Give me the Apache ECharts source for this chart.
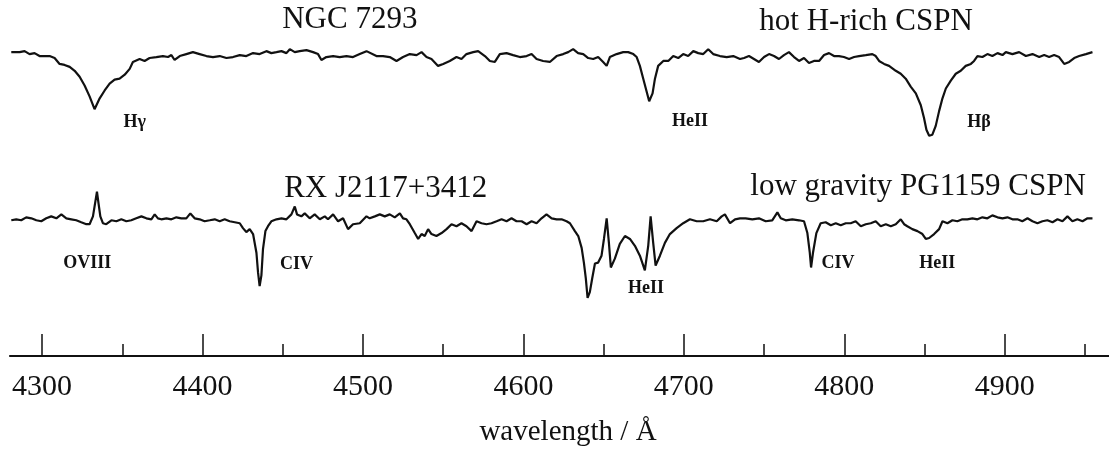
<!DOCTYPE html>
<html>
<head>
<meta charset="utf-8">
<script src="https://cdn.jsdelivr.net/npm/echarts@6/dist/echarts.min.js"></script>
<style>
html,body{margin:0;padding:0;background:#fff;}
#chart{width:1109px;height:452px;}
</style>
</head>
<body>
<div id="chart"></div>
<script>
// wavelength (Å), relative flux (offset spectra)
const ngc7293 = [[4280.8,3.12],[4286.0,3.12],[4289.1,3.13],[4292.2,3.10],[4295.3,3.11],[4298.4,3.08],[4301.6,3.08],[4304.7,3.08],[4307.8,3.06],[4310.9,3.00],[4314.0,2.99],[4317.2,2.97],[4320.3,2.93],[4323.4,2.87],[4326.5,2.78],[4329.6,2.67],[4332.7,2.54],[4335.9,2.65],[4339.0,2.73],[4342.1,2.80],[4345.2,2.84],[4348.3,2.85],[4351.5,2.89],[4354.6,2.95],[4356.6,3.02],[4360.8,3.05],[4363.9,3.03],[4367.0,3.06],[4371.2,3.07],[4375.3,3.08],[4378.5,3.07],[4380.6,3.09],[4382.6,3.04],[4385.8,3.08],[4389.9,3.10],[4394.0,3.12],[4398.2,3.10],[4402.4,3.08],[4406.5,3.07],[4410.7,3.08],[4414.9,3.06],[4419.0,3.07],[4423.2,3.09],[4427.3,3.08],[4431.5,3.11],[4435.6,3.10],[4439.8,3.13],[4442.9,3.11],[4446.1,3.12],[4449.2,3.13],[4452.3,3.11],[4454.4,3.15],[4457.5,3.12],[4460.6,3.13],[4464.8,3.14],[4468.9,3.12],[4472.0,3.10],[4474.1,3.04],[4477.2,3.07],[4481.4,3.08],[4485.5,3.07],[4489.7,3.08],[4493.8,3.07],[4498.0,3.10],[4502.2,3.13],[4508.4,3.08],[4512.5,3.08],[4516.7,3.07],[4520.9,3.03],[4525.0,3.07],[4529.2,3.10],[4533.4,3.09],[4536.5,3.12],[4539.6,3.07],[4542.7,3.05],[4546.8,2.98],[4550.0,3.00],[4554.1,3.03],[4558.3,3.07],[4561.4,3.05],[4564.5,3.10],[4568.7,3.12],[4571.8,3.13],[4576.0,3.08],[4579.1,3.03],[4582.2,3.02],[4585.3,3.10],[4589.5,3.11],[4593.6,3.09],[4597.8,3.07],[4602.0,3.08],[4605.1,3.10],[4608.2,3.05],[4612.3,3.03],[4616.5,3.02],[4620.7,3.08],[4624.8,3.10],[4627.9,3.12],[4631.0,3.15],[4634.1,3.11],[4637.3,3.10],[4640.4,3.06],[4643.5,3.05],[4646.6,3.07],[4649.7,3.02],[4651.9,2.98],[4653.9,3.07],[4658.1,3.10],[4662.2,3.12],[4665.3,3.12],[4668.5,3.10],[4670.6,3.07],[4672.6,2.98],[4674.7,2.85],[4676.8,2.72],[4678.4,2.62],[4680.5,2.70],[4682.0,2.85],[4684.0,2.98],[4687.2,3.03],[4690.3,3.03],[4693.4,3.08],[4696.5,3.06],[4699.6,3.10],[4702.7,3.08],[4705.9,3.13],[4709.0,3.11],[4712.1,3.10],[4715.2,3.15],[4718.3,3.10],[4722.5,3.08],[4726.7,3.07],[4730.8,3.08],[4735.0,3.05],[4737.5,3.06],[4740.6,3.08],[4743.7,3.05],[4746.8,3.02],[4750.0,3.07],[4753.1,3.10],[4756.2,3.08],[4759.3,3.05],[4762.4,3.09],[4765.5,3.12],[4768.7,3.07],[4771.8,3.03],[4774.9,3.06],[4778.0,3.01],[4781.1,3.03],[4784.3,3.03],[4787.4,3.09],[4790.5,3.11],[4793.6,3.08],[4796.7,3.08],[4799.8,3.07],[4803.0,3.05],[4806.1,3.07],[4809.2,3.08],[4813.4,3.09],[4817.5,3.10],[4819.6,3.08],[4821.7,3.03],[4824.8,3.00],[4827.9,2.98],[4832.1,2.93],[4835.2,2.90],[4838.3,2.85],[4841.4,2.77],[4844.6,2.70],[4847.7,2.58],[4849.7,2.45],[4851.2,2.33],[4852.9,2.27],[4854.9,2.28],[4857.0,2.37],[4859.1,2.52],[4861.2,2.65],[4863.3,2.75],[4866.4,2.83],[4869.5,2.90],[4872.6,2.93],[4875.7,2.98],[4878.9,3.00],[4880.9,3.03],[4883.0,3.08],[4886.1,3.07],[4889.2,3.10],[4892.3,3.08],[4895.5,3.11],[4898.6,3.09],[4900.7,3.12],[4904.8,3.10],[4909.0,3.12],[4913.2,3.08],[4917.3,3.10],[4921.5,3.07],[4924.6,3.09],[4927.7,3.07],[4930.8,3.09],[4933.9,3.07],[4937.1,3.00],[4940.2,3.02],[4943.3,3.06],[4946.4,3.08],[4950.6,3.10],[4954.7,3.12]];

const rxj2117 = [[4280.8,1.41],[4283.9,1.42],[4287.0,1.41],[4290.1,1.44],[4293.3,1.43],[4296.4,1.41],[4299.5,1.40],[4302.6,1.43],[4305.7,1.45],[4308.9,1.43],[4312.0,1.47],[4315.1,1.43],[4318.2,1.42],[4321.3,1.41],[4324.4,1.39],[4327.6,1.37],[4329.6,1.37],[4331.7,1.45],[4333.2,1.60],[4334.2,1.70],[4335.2,1.58],[4336.3,1.45],[4337.9,1.38],[4340.0,1.37],[4343.2,1.41],[4346.3,1.40],[4349.4,1.42],[4352.5,1.40],[4355.6,1.41],[4358.7,1.43],[4361.9,1.45],[4365.0,1.43],[4368.1,1.42],[4370.2,1.47],[4372.2,1.43],[4374.3,1.42],[4377.5,1.43],[4380.6,1.42],[4383.7,1.44],[4386.8,1.43],[4389.9,1.43],[4392.4,1.48],[4395.1,1.43],[4398.2,1.42],[4401.3,1.40],[4404.5,1.41],[4407.6,1.42],[4410.7,1.40],[4413.8,1.42],[4416.9,1.40],[4420.1,1.39],[4423.2,1.38],[4425.2,1.33],[4427.3,1.29],[4429.4,1.32],[4431.5,1.27],[4433.6,1.08],[4434.6,0.88],[4435.6,0.74],[4436.7,0.85],[4437.7,1.12],[4439.2,1.30],[4440.8,1.35],[4442.9,1.40],[4446.1,1.42],[4449.2,1.43],[4452.3,1.42],[4455.4,1.47],[4457.5,1.55],[4458.9,1.47],[4461.6,1.45],[4463.7,1.48],[4466.8,1.43],[4469.9,1.47],[4473.1,1.42],[4476.2,1.45],[4478.2,1.42],[4481.4,1.47],[4484.5,1.40],[4487.6,1.43],[4490.7,1.32],[4493.8,1.37],[4498.0,1.38],[4502.2,1.45],[4504.2,1.43],[4507.4,1.45],[4510.5,1.47],[4513.6,1.45],[4516.7,1.47],[4519.8,1.44],[4523.0,1.48],[4525.0,1.43],[4527.1,1.42],[4529.2,1.37],[4532.3,1.28],[4534.4,1.22],[4536.5,1.27],[4538.5,1.25],[4540.6,1.32],[4542.7,1.27],[4545.8,1.25],[4549.0,1.28],[4552.1,1.32],[4555.2,1.37],[4558.3,1.35],[4561.4,1.38],[4564.5,1.35],[4567.7,1.30],[4570.8,1.40],[4573.9,1.38],[4577.0,1.37],[4580.1,1.38],[4583.3,1.40],[4586.4,1.42],[4589.5,1.40],[4592.6,1.43],[4595.7,1.40],[4598.9,1.40],[4602.0,1.37],[4605.1,1.40],[4608.2,1.38],[4611.3,1.43],[4614.4,1.47],[4617.6,1.43],[4620.7,1.42],[4623.8,1.42],[4626.9,1.40],[4629.0,1.38],[4632.1,1.30],[4634.2,1.25],[4636.3,1.13],[4637.7,0.98],[4638.9,0.82],[4640.0,0.62],[4641.4,0.68],[4642.9,0.82],[4644.6,0.97],[4646.6,0.98],[4648.7,1.05],[4650.2,1.22],[4651.9,1.43],[4653.3,1.18],[4654.5,0.93],[4657.0,1.02],[4660.1,1.17],[4663.3,1.25],[4666.4,1.22],[4669.5,1.15],[4672.6,1.05],[4675.7,0.90],[4677.8,1.15],[4679.3,1.45],[4680.9,1.18],[4682.4,0.95],[4685.1,1.05],[4688.2,1.18],[4691.3,1.27],[4695.5,1.33],[4699.6,1.38],[4703.8,1.42],[4708.0,1.40],[4712.1,1.40],[4716.3,1.42],[4720.5,1.40],[4723.6,1.45],[4725.6,1.47],[4728.8,1.38],[4731.9,1.42],[4735.0,1.43],[4738.5,1.43],[4742.7,1.42],[4746.8,1.43],[4751.0,1.40],[4755.1,1.41],[4758.3,1.49],[4760.4,1.43],[4763.5,1.41],[4767.6,1.42],[4771.8,1.41],[4774.9,1.40],[4777.0,1.28],[4778.5,1.08],[4779.3,0.93],[4780.5,1.08],[4782.6,1.28],[4785.3,1.38],[4788.4,1.39],[4791.6,1.36],[4794.7,1.38],[4797.8,1.36],[4800.9,1.38],[4804.0,1.38],[4807.1,1.40],[4810.3,1.35],[4813.4,1.37],[4816.5,1.38],[4819.6,1.40],[4822.7,1.35],[4825.9,1.37],[4829.0,1.35],[4832.1,1.37],[4835.2,1.42],[4837.3,1.37],[4839.3,1.35],[4842.4,1.32],[4845.6,1.30],[4848.7,1.27],[4850.8,1.22],[4852.9,1.23],[4856.0,1.27],[4859.1,1.32],[4861.2,1.40],[4864.3,1.38],[4867.4,1.41],[4870.5,1.40],[4873.6,1.42],[4876.7,1.42],[4879.9,1.43],[4883.0,1.42],[4886.1,1.44],[4889.2,1.43],[4892.3,1.46],[4895.5,1.44],[4898.6,1.43],[4901.7,1.44],[4904.8,1.42],[4907.9,1.42],[4911.0,1.40],[4914.2,1.43],[4917.3,1.40],[4920.4,1.38],[4923.5,1.40],[4926.6,1.41],[4929.8,1.39],[4932.9,1.42],[4936.0,1.40],[4939.1,1.45],[4942.2,1.40],[4945.3,1.42],[4948.5,1.40],[4951.6,1.43],[4954.7,1.43]];

// spectrum titles: [wavelength, flux, text]
const titles = [[4491.8,3.45,'NGC 7293'],[4813.6,3.43,'hot H-rich CSPN'],[4514.2,1.73,'RX J2117+3412'],[4846.0,1.75,'low gravity PG1159 CSPN']];
// line identifications: [wavelength, flux, text]
const lineLabels = [[4357.7,2.41,'Hγ'],[4703.8,2.42,'HeII'],[4884.0,2.41,'Hβ'],[4328.1,0.97,'OVIII'],[4458.5,0.96,'CIV'],[4676.4,0.72,'HeII'],[4796.1,0.97,'CIV'],[4857.9,0.97,'HeII']];

const majorTicks = [4300,4400,4500,4600,4700,4800,4900];
const minorTicks = [4350,4450,4550,4650,4750,4850,4950];
const xMin = 4280, xMax = 4965;

const FONT = "'Liberation Serif','Times New Roman',serif";
const INK = '#111';

const chart = echarts.init(document.getElementById('chart'), null, {renderer:'canvas'});
chart.setOption({
  animation:false,
  backgroundColor:'#fff',
  grid:{left:10,right:0,top:0,bottom:90,containLabel:false},
  xAxis:[{
    type:'value',position:'bottom',min:xMin,max:xMax,
    axisLine:{show:true,onZero:false,lineStyle:{color:INK,width:2.2}},
    axisTick:{show:true,inside:true,length:22,customValues:majorTicks,lineStyle:{color:INK,width:1.5}},
    axisLabel:{show:true,customValues:majorTicks,margin:16,fontSize:30,fontFamily:FONT,color:INK,
      formatter:v=>String(v)},
    splitLine:{show:false},
    name:'wavelength / Å',nameLocation:'middle',nameGap:62,
    nameTextStyle:{fontSize:29,fontFamily:FONT,color:INK,padding:[0,0,0,17]}
  },{
    type:'value',position:'bottom',min:xMin,max:xMax,
    axisLine:{show:false,onZero:false},
    axisTick:{show:true,inside:true,length:12,customValues:minorTicks,lineStyle:{color:INK,width:1.5}},
    axisLabel:{show:false},
    splitLine:{show:false}
  }],
  yAxis:{type:'value',min:0.03,max:3.65,show:false,splitLine:{show:false}},
  series:[
    {type:'line',xAxisIndex:0,data:ngc7293,showSymbol:false,silent:true,
     lineStyle:{color:INK,width:2.2}},
    {type:'line',xAxisIndex:0,data:rxj2117,showSymbol:false,silent:true,
     lineStyle:{color:INK,width:2.2}},
    {type:'scatter',xAxisIndex:0,data:titles,symbolSize:1,silent:true,
     itemStyle:{color:'rgba(0,0,0,0)',opacity:1},
     label:{show:true,position:'inside',formatter:p=>p.data[2],
       fontSize:31,fontFamily:FONT,color:INK,opacity:1}},
    {type:'scatter',xAxisIndex:0,data:lineLabels,symbolSize:1,silent:true,
     itemStyle:{color:'rgba(0,0,0,0)',opacity:1},
     label:{show:true,position:'inside',formatter:p=>p.data[2],
       fontSize:18,fontWeight:'bold',fontFamily:FONT,color:INK,opacity:1}}
  ]
});
</script>
</body>
</html>
